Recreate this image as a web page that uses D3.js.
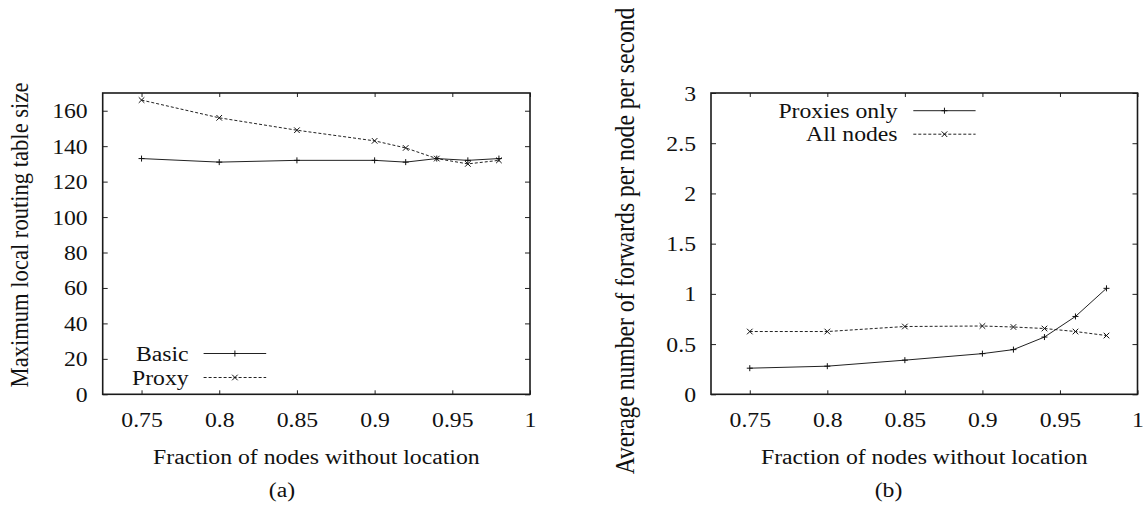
<!DOCTYPE html>
<html>
<head>
<meta charset="utf-8">
<script src="https://cdn.jsdelivr.net/npm/d3@7"></script>
<style>
  body { margin: 0; background: #fff; }
  svg { display: block; }
  text { font-family: "Liberation Serif", "Times New Roman", serif; fill: #111; }
</style>
</head>
<body>
<svg id="chart" width="1145" height="506"></svg>
<script>
// data
var fractions = [0.75, 0.8, 0.85, 0.9, 0.92, 0.94, 0.96, 0.98];
var basic = [133, 131, 132, 132, 131, 133, 132, 133];
var proxy = [166, 156, 149, 143, 139, 133, 130, 132];
var proxiesOnly = [0.26, 0.28, 0.34, 0.405, 0.445, 0.57, 0.775, 1.055];
var allNodes = [0.625, 0.625, 0.675, 0.68, 0.67, 0.655, 0.625, 0.585];

var xTicks = [0.75, 0.8, 0.85, 0.9, 0.95, 1];
var yTicksA = [0, 20, 40, 60, 80, 100, 120, 140, 160];
var yTicksB = [0, 0.5, 1, 1.5, 2, 2.5, 3];

var svg = d3.select('#chart');
var FS = 20.8;      // font size
var SX = 1.14;      // the figure is a bit wider than tall, stretch text too
var plotTop = 93, plotBottom = 394.3;

function hText(g, x, y, str, anchor, size) {
  return g.append('text')
    .attr('transform', 'translate(' + x + ',' + y + ') scale(' + SX + ',1)')
    .attr('text-anchor', anchor)
    .style('font-size', (size || FS) + 'px')
    .text(str);
}

function drawPanel(cfg) {
  var g = svg.append('g');
  var x = d3.scaleLinear().domain([0.725, 1]).range([cfg.left, cfg.right]);
  var y = d3.scaleLinear().domain([0, cfg.ymax]).range([plotBottom, plotTop]);

  // ticks, inward, mirrored on all sides
  var ax = g.append('g').attr('transform', 'translate(0,' + plotBottom + ')')
    .call(d3.axisBottom(x).tickValues(xTicks).tickSize(-4).tickFormat(d3.format('')));
  ax.selectAll('text')
    .attr('y', 0).attr('dy', null)
    .attr('transform', 'translate(0,32.7) scale(' + SX + ',1)')
    .style('font-size', FS + 'px');

  g.append('g').attr('transform', 'translate(0,' + plotTop + ')')
    .call(d3.axisTop(x).tickValues(xTicks).tickSize(-4).tickFormat(''));

  var ay = g.append('g').attr('transform', 'translate(' + cfg.left + ',0)')
    .call(d3.axisLeft(y).tickValues(cfg.yTicks).tickSize(-5).tickFormat(d3.format('')));
  ay.selectAll('text')
    .attr('x', 0).attr('dy', null)
    .attr('transform', 'translate(-15,7) scale(' + SX + ',1)')
    .style('font-size', FS + 'px');

  g.append('g').attr('transform', 'translate(' + cfg.right + ',0)')
    .call(d3.axisRight(y).tickValues(cfg.yTicks).tickSize(-5).tickFormat(''));

  g.selectAll('.domain').remove();
  g.selectAll('.tick line').attr('stroke', '#222');
  g.selectAll('.tick text').attr('fill', '#111').style('font-family', '"Liberation Serif", serif');

  g.append('rect')
    .attr('x', cfg.left).attr('y', plotTop)
    .attr('width', cfg.right - cfg.left).attr('height', plotBottom - plotTop)
    .attr('fill', 'none').attr('stroke', '#1a1a1a').attr('stroke-width', 1.6);

  // series
  var line = d3.line().x(function(d) { return x(d[0]); }).y(function(d) { return y(d[1]); });
  var plus = 'M-3,0H3M0,-3V3';
  var cross = 'M-2.8,-2.8L2.8,2.8M-2.8,2.8L2.8,-2.8';

  cfg.series.forEach(function(s) {
    var pts = fractions.map(function(f, i) { return [f, s.values[i]]; });
    g.append('path').datum(pts)
      .attr('d', line)
      .attr('fill', 'none').attr('stroke', '#222').attr('stroke-width', 1)
      .attr('stroke-dasharray', s.dashed ? '3,2' : null);
    g.selectAll(null).data(pts).join('path')
      .attr('transform', function(d) { return 'translate(' + x(d[0]) + ',' + y(d[1]) + ')'; })
      .attr('d', s.dashed ? cross : plus)
      .attr('stroke', '#111').attr('stroke-width', 1);
  });

  // legend
  cfg.series.forEach(function(s, i) {
    var ly = cfg.legend.y + i * cfg.legend.step;
    hText(g, cfg.legend.textX, ly + 7, s.name, 'end');
    g.append('line')
      .attr('x1', cfg.legend.x1).attr('x2', cfg.legend.x2)
      .attr('y1', ly).attr('y2', ly)
      .attr('stroke', '#222').attr('stroke-width', 1)
      .attr('stroke-dasharray', s.dashed ? '3,2' : null);
    g.append('path')
      .attr('transform', 'translate(' + (cfg.legend.x1 + cfg.legend.x2) / 2 + ',' + ly + ')')
      .attr('d', s.dashed ? cross : plus)
      .attr('stroke', '#111').attr('stroke-width', 1);
  });

  // titles
  hText(g, (cfg.left + cfg.right) / 2, 463.5, 'Fraction of nodes without location', 'middle');
  hText(g, cfg.captionX, 497, cfg.caption, 'middle');
  g.append('text')
    .attr('transform', 'translate(' + cfg.ylabelX + ',' + cfg.ylabelY + ') rotate(-90) scale(1,' + SX + ')')
    .attr('text-anchor', 'middle')
    .style('font-size', cfg.ylabelSize + 'px')
    .text(cfg.ylabel);
}

drawPanel({
  left: 102.7, right: 530, ymax: 170, yTicks: yTicksA,
  series: [
    { name: 'Basic', values: basic, dashed: false },
    { name: 'Proxy', values: proxy, dashed: true }
  ],
  legend: { y: 353.5, step: 24, textX: 188.6, x1: 203.6, x2: 266.2 },
  caption: '(a)', captionX: 282,
  ylabel: 'Maximum local routing table size', ylabelX: 28, ylabelY: 235, ylabelSize: 22.6
});

drawPanel({
  left: 711, right: 1137.5, ymax: 3, yTicks: yTicksB,
  series: [
    { name: 'Proxies only', values: proxiesOnly, dashed: false },
    { name: 'All nodes', values: allNodes, dashed: true }
  ],
  legend: { y: 110.7, step: 23.5, textX: 897.6, x1: 913.3, x2: 975.6 },
  caption: '(b)', captionX: 888.5,
  ylabel: 'Average number of forwards per node per second', ylabelX: 634, ylabelY: 241, ylabelSize: 23.6
});
</script>
</body>
</html>
